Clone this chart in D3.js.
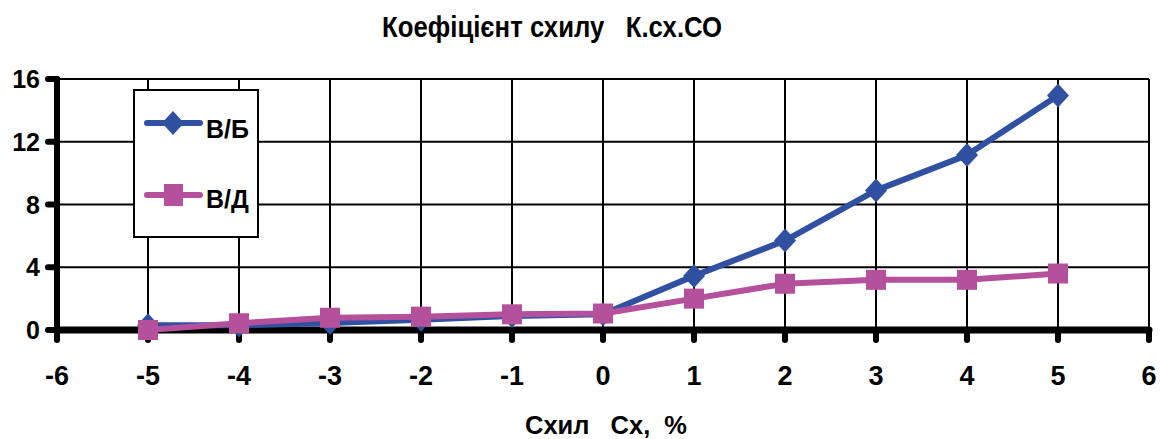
<!DOCTYPE html>
<html>
<head>
<meta charset="utf-8">
<script src="https://cdn.jsdelivr.net/npm/d3@7"></script>
<style>
  html, body { margin: 0; padding: 0; background: #fff; }
  svg { display: block; }
  text { font-family: "Liberation Sans", Arial, sans-serif; font-weight: bold; fill: #000; white-space: pre; }
</style>
</head>
<body>
<svg id="chart" width="1160" height="439"></svg>
<script>
// Slope values (%) along the x axis
const slopes = [-5, -4, -3, -2, -1, 0, 1, 2, 3, 4, 5];
// Coefficient series
const seriesVB = [0.3, 0.3, 0.45, 0.65, 0.9, 1.0, 3.45, 5.7, 8.9, 11.15, 14.95];
const seriesVD = [0.0, 0.43, 0.78, 0.85, 1.0, 1.05, 2.0, 2.95, 3.2, 3.2, 3.6];
const seriesNames = ["В/Б", "В/Д"];
const xTicks = [-6, -5, -4, -3, -2, -1, 0, 1, 2, 3, 4, 5, 6];
const yTicks = [0, 4, 8, 12, 16];

const svg = d3.select("#chart");
const x = d3.scaleLinear().domain([-6, 6]).range([57, 1149]);
const y = d3.scaleLinear().domain([0, 16]).range([330, 79]);

const blue = "#3050A2";
const pink = "#B4509C";

// Title (condensed bold)
svg.append("text")
  .attr("x", 382).attr("y", 37)
  .attr("font-size", 30)
  .attr("textLength", 340).attr("lengthAdjust", "spacingAndGlyphs")
  .text("Коефіцієнт схилу   К.сх.СО");

// Grid
const grid = svg.append("g");
grid.selectAll("line.h").data(yTicks.filter(d => d > 0)).join("line")
  .attr("x1", x(-6)).attr("x2", x(6))
  .attr("y1", d => y(d)).attr("y2", d => y(d))
  .attr("stroke", "#000").attr("stroke-width", 2);
grid.selectAll("line.v").data(xTicks.filter(d => d > -6)).join("line")
  .attr("x1", d => x(d)).attr("x2", d => x(d))
  .attr("y1", y(16)).attr("y2", y(0))
  .attr("stroke", "#000").attr("stroke-width", 2);

// Tick stubs
svg.append("g").selectAll("line").data(yTicks).join("line")
  .attr("x1", x(-6) - 9).attr("x2", x(-6))
  .attr("y1", d => y(d)).attr("y2", d => y(d))
  .attr("stroke", "#000").attr("stroke-width", 6).attr("stroke-linecap", "round");
svg.append("g").selectAll("line").data(xTicks).join("line")
  .attr("x1", d => x(d)).attr("x2", d => x(d))
  .attr("y1", y(0)).attr("y2", y(0) + 10)
  .attr("stroke", "#000").attr("stroke-width", 6).attr("stroke-linecap", "round");

// Axes lines
svg.append("line")
  .attr("x1", x(-6)).attr("x2", x(-6)).attr("y1", y(16)).attr("y2", y(0))
  .attr("stroke", "#000").attr("stroke-width", 6).attr("stroke-linecap", "round");
svg.append("line")
  .attr("x1", x(-6)).attr("x2", x(6)).attr("y1", y(0)).attr("y2", y(0))
  .attr("stroke", "#000").attr("stroke-width", 7).attr("stroke-linecap", "round");

// Tick labels
svg.append("g").selectAll("text").data(yTicks).join("text")
  .attr("x", 40).attr("y", d => y(d) + 9)
  .attr("text-anchor", "end").attr("font-size", 25)
  .text(d => d);
svg.append("g").selectAll("text").data(xTicks).join("text")
  .attr("x", d => x(d)).attr("y", 385)
  .attr("text-anchor", "middle").attr("font-size", 27)
  .text(d => d);

// Axis title
svg.append("text")
  .attr("x", 525).attr("y", 434)
  .attr("font-size", 26)
  .attr("textLength", 162).attr("lengthAdjust", "spacingAndGlyphs")
  .text("Схил   Сх,  %");

// Series
const line = d3.line().x(d => x(d[0])).y(d => y(d[1]));
const ptsVB = slopes.map((s, i) => [s, seriesVB[i]]);
const ptsVD = slopes.map((s, i) => [s, seriesVD[i]]);

const diamond = (cx, cy) => `M${cx},${cy - 12}L${cx + 11},${cy}L${cx},${cy + 12}L${cx - 11},${cy}Z`;

svg.append("path").datum(ptsVB).attr("d", line)
  .attr("fill", "none").attr("stroke", blue).attr("stroke-width", 6).attr("stroke-linejoin", "round");
svg.append("g").selectAll("path").data(ptsVB).join("path")
  .attr("d", d => diamond(x(d[0]), y(d[1])))
  .attr("fill", blue);

svg.append("path").datum(ptsVD).attr("d", line)
  .attr("fill", "none").attr("stroke", pink).attr("stroke-width", 6).attr("stroke-linejoin", "round");
svg.append("g").selectAll("rect").data(ptsVD).join("rect")
  .attr("x", d => x(d[0]) - 10).attr("y", d => y(d[1]) - 10)
  .attr("width", 20).attr("height", 20)
  .attr("fill", pink);

// Legend
const lg = svg.append("g");
lg.append("rect").attr("x", 134).attr("y", 90).attr("width", 124).attr("height", 147)
  .attr("fill", "#fff").attr("stroke", "#000").attr("stroke-width", 2);
const legendRows = [
  { name: seriesNames[0], color: blue, ly: 123, ty: 138, marker: "diamond" },
  { name: seriesNames[1], color: pink, ly: 195, ty: 208, marker: "square" }
];
legendRows.forEach(r => {
  lg.append("line").attr("x1", 147).attr("x2", 200).attr("y1", r.ly).attr("y2", r.ly)
    .attr("stroke", r.color).attr("stroke-width", 6).attr("stroke-linecap", "round");
  if (r.marker === "diamond") {
    lg.append("path").attr("d", diamond(173, r.ly)).attr("fill", r.color);
  } else {
    lg.append("rect").attr("x", 164).attr("y", r.ly - 11).attr("width", 19).attr("height", 22).attr("fill", r.color);
  }
  lg.append("text").attr("x", 206).attr("y", r.ty).attr("font-size", 25).text(r.name);
});
</script>
</body>
</html>
